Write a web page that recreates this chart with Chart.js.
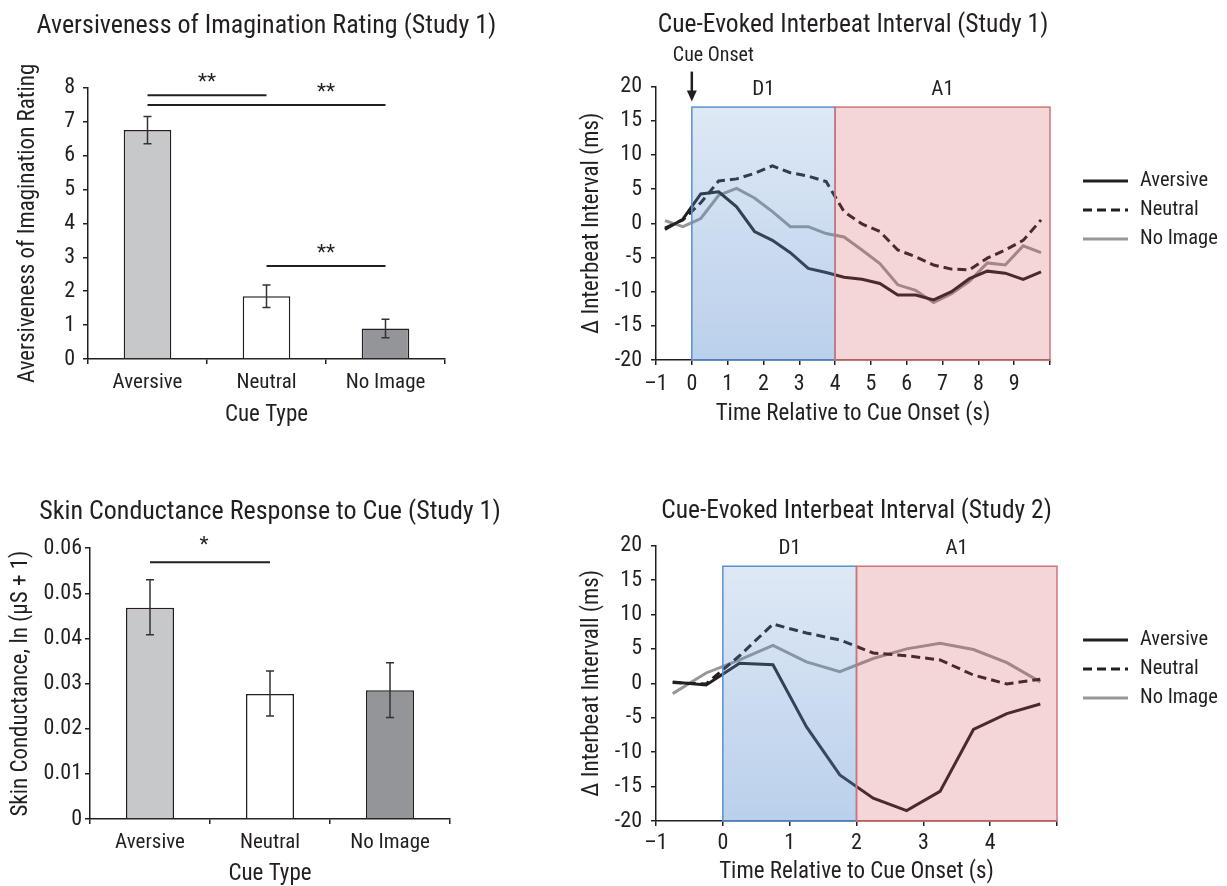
<!DOCTYPE html>
<html><head><meta charset="utf-8">
<script src="https://cdn.jsdelivr.net/npm/chart.js@4.4.1/dist/chart.umd.min.js"></script>
<style>
html,body{margin:0;padding:0;background:#fff;}
body{width:1227px;height:886px;position:relative;overflow:hidden;}
canvas{position:absolute;}
</style></head><body>
<canvas id="c1" width="540" height="445" style="left:0;top:0"></canvas>
<canvas id="c2" width="667" height="445" style="left:560px;top:0"></canvas>
<canvas id="c3" width="540" height="441" style="left:0;top:445px"></canvas>
<canvas id="c4" width="667" height="441" style="left:560px;top:445px"></canvas>
<script>
// ---------- data ----------
const cueTypes = ['Aversive', 'Neutral', 'No Image'];

const ratingMeans = [6.75, 1.85, 0.9];
const ratingErrLow = [6.35, 1.52, 0.63];
const ratingErrHigh = [7.15, 2.18, 1.17];
const ratingSigPairs = [[0, 1], [0, 2], [1, 2]];
const ratingSigLevels = [7.78, 7.49, 2.74];
const ratingSigLabels = ['**', '**', '**'];
const ratingSigLabelAt = [0.5, 1.5, 1.5];

const scrMeans = [0.0468, 0.0277, 0.0285];
const scrErrLow = [0.0408, 0.0228, 0.0225];
const scrErrHigh = [0.053, 0.0328, 0.0346];
const scrSigPairs = [[0, 1]];
const scrSigLevels = [0.0569];
const scrSigLabels = ['*'];
const scrSigLabelAt = [0.45];

const seriesNames = ['Aversive', 'Neutral', 'No Image'];
const periodLabels = ['D1', 'A1'];

const study1Time = [-0.75, -0.25, 0.25, 0.75, 1.25, 1.75, 2.25, 2.75, 3.25, 3.75, 4.25, 4.75, 5.25, 5.75, 6.25, 6.75, 7.25, 7.75, 8.25, 8.75, 9.25, 9.75];
const study1Aversive = [-0.9, 0.6, 4.3, 4.6, 2.4, -1.2, -2.5, -4.3, -6.6, -7.2, -7.9, -8.2, -8.8, -10.5, -10.5, -11.2, -10.0, -8.1, -7.0, -7.3, -8.2, -7.1];
const study1Neutral = [-0.7, 0.5, 3.0, 6.2, 6.5, 7.3, 8.4, 7.4, 6.9, 6.1, 1.7, -0.1, -1.2, -3.9, -4.9, -6.1, -6.7, -6.8, -5.1, -3.9, -2.5, 0.5];
const study1NoImage = [0.4, -0.5, 0.7, 4.1, 5.1, 3.7, 1.7, -0.5, -0.5, -1.5, -2.0, -3.9, -5.9, -9.0, -9.8, -11.6, -10.3, -8.5, -5.8, -6.1, -3.3, -4.3];
const study1PeriodBounds = [0, 4, 10];
const study1TickLabels = ['\u20131', '0', '1', '2', '3', '4', '5', '6', '7', '8', '9', ''];

const study2Time = [-0.75, -0.25, 0.25, 0.75, 1.25, 1.75, 2.25, 2.75, 3.25, 3.75, 4.25, 4.75];
const study2Aversive = [0.2, -0.25, 2.9, 2.7, -6.3, -13.3, -16.7, -18.5, -15.7, -6.7, -4.4, -3.0];
const study2Neutral = [0.1, -0.1, 4.0, 8.6, 7.3, 6.3, 4.4, 4.0, 3.4, 1.2, -0.1, 0.6];
const study2NoImage = [-1.5, 1.5, 3.4, 5.5, 3.1, 1.7, 3.6, 5.0, 5.8, 4.9, 3.0, 0.2];
const study2PeriodBounds = [0, 2, 5];
const study2TickLabels = ['\u20131', '0', '1', '2', '3', '4', ''];

// ---------- style ----------
const F = "'Liberation Sans Narrow','Arial Narrow','Roboto Condensed','DejaVu Sans Condensed',sans-serif";
const TXT = '#231f20';
Chart.defaults.font.family = F;
Chart.defaults.color = TXT;

const zip = (xs, ys) => xs.map((x, i) => ({x, y: ys[i]}));

// ---------- plugins ----------
// let the (non-full-size) title be centred over the plot area without being squeezed to its width
const widenTitlePlugin = {
  id: 'widenTitle',
  afterLayout(chart) {
    const t = chart.titleBlock;
    if (!t) return;
    const c = (chart.chartArea.left + chart.chartArea.right) / 2;
    t.left = c - 400; t.right = c + 400; t.width = 800;
  }
};

const errorBarPlugin = {
  id: 'errorBars',
  afterDatasetsDraw(chart, args, o) {
    const meta = chart.getDatasetMeta(0), y = chart.scales.y, ctx = chart.ctx;
    ctx.save();
    ctx.strokeStyle = o.color; ctx.lineWidth = o.width;
    meta.data.forEach((bar, i) => {
      const lo = y.getPixelForValue(o.low[i]), hi = y.getPixelForValue(o.high[i]);
      ctx.beginPath();
      ctx.moveTo(bar.x, lo); ctx.lineTo(bar.x, hi);
      ctx.moveTo(bar.x - o.cap, lo); ctx.lineTo(bar.x + o.cap, lo);
      ctx.moveTo(bar.x - o.cap, hi); ctx.lineTo(bar.x + o.cap, hi);
      ctx.stroke();
    });
    ctx.restore();
  }
};

const sigPlugin = {
  id: 'sig',
  afterDatasetsDraw(chart, args, o) {
    const x = chart.scales.x, y = chart.scales.y, ctx = chart.ctx;
    ctx.save();
    ctx.strokeStyle = TXT; ctx.lineWidth = 2; ctx.fillStyle = TXT;
    ctx.font = o.fontSize + 'px ' + F; ctx.textAlign = 'center'; ctx.textBaseline = 'alphabetic';
    o.pairs.forEach((p, i) => {
      const x0 = x.getPixelForValue(p[0]), x1 = x.getPixelForValue(p[1]);
      const yy = y.getPixelForValue(o.levels[i]);
      ctx.beginPath(); ctx.moveTo(x0, yy); ctx.lineTo(x1, yy); ctx.stroke();
      ctx.fillText(o.labels[i], x.getPixelForValue(o.labelAt[i]), yy - o.textOffset);
    });
    ctx.restore();
  }
};

const periodPlugin = {
  id: 'periods',
  afterDatasetsDraw(chart, args, o) {
    const x = chart.scales.x, y = chart.scales.y, ctx = chart.ctx;
    ctx.save();
    const yTop = y.getPixelForValue(o.top), yBot = y.getPixelForValue(y.min);
    for (let i = 0; i < o.bounds.length - 1; i++) {
      const x0 = x.getPixelForValue(o.bounds[i]), x1 = x.getPixelForValue(o.bounds[i + 1]);
      const st = o.styles[i];
      let fill;
      if (st.gradient) {
        fill = ctx.createLinearGradient(0, yTop, 0, yBot);
        fill.addColorStop(0, st.gradient[0]); fill.addColorStop(1, st.gradient[1]);
      } else fill = st.fill;
      ctx.fillStyle = fill;
      ctx.fillRect(x0, yTop, x1 - x0, yBot - yTop);
      ctx.strokeStyle = st.stroke; ctx.lineWidth = 1.5;
      ctx.strokeRect(x0, yTop, x1 - x0, yBot - yTop);
      ctx.fillStyle = TXT; ctx.font = o.fontSize + 'px ' + F;
      ctx.textAlign = 'center'; ctx.textBaseline = 'middle';
      ctx.fillText(o.labels[i], (x0 + x1) / 2, y.getPixelForValue(o.labelY));
    }
    ctx.restore();
  }
};

const cuePlugin = {
  id: 'cueOnset',
  afterDraw(chart, args, o) {
    if (!o.show) return;
    const x = chart.scales.x, ctx = chart.ctx, top = chart.chartArea.top;
    const px = x.getPixelForValue(o.at);
    ctx.save();
    ctx.strokeStyle = TXT; ctx.fillStyle = TXT; ctx.lineWidth = 2.5;
    ctx.beginPath(); ctx.moveTo(px, top - 15); ctx.lineTo(px, top + 6); ctx.stroke();
    ctx.beginPath(); ctx.moveTo(px - 5, top + 4); ctx.lineTo(px + 5, top + 4); ctx.lineTo(px, top + 15); ctx.closePath(); ctx.fill();
    ctx.font = o.fontSize + 'px ' + F; ctx.textAlign = 'left'; ctx.textBaseline = 'middle';
    ctx.fillText(o.text, px - 19, top - 31);
    ctx.restore();
  }
};

const lineLegendPlugin = {
  id: 'lineLegend',
  afterDraw(chart, args, o) {
    const ctx = chart.ctx;
    ctx.save();
    chart.data.datasets.forEach((ds, i) => {
      const y = o.y + i * o.spacing;
      ctx.strokeStyle = ds.borderColor; ctx.lineWidth = ds.borderWidth;
      ctx.setLineDash(ds.borderDash || []);
      ctx.beginPath(); ctx.moveTo(o.x, y); ctx.lineTo(o.x + o.len, y); ctx.stroke();
      ctx.setLineDash([]);
      ctx.fillStyle = TXT; ctx.font = o.fontSize + 'px ' + F;
      ctx.textAlign = 'left'; ctx.textBaseline = 'middle';
      ctx.fillText(ds.label, o.x + o.len + o.gap, y);
    });
    ctx.restore();
  }
};

// ---------- builders ----------
const gridOpts = {drawOnChartArea: false, drawTicks: true, tickLength: 5, color: TXT, lineWidth: 1.5};
const borderOpts = {display: true, color: TXT, width: 1.5};

function barChart(id, cfg) {
  return new Chart(document.getElementById(id), {
    type: 'bar',
    data: {
      labels: cueTypes,
      datasets: [{
        data: cfg.values,
        backgroundColor: ['#c7c8ca', '#ffffff', '#939598'],
        borderColor: TXT, borderWidth: 1.5,
        barPercentage: 0.4, categoryPercentage: 1
      }]
    },
    options: {
      responsive: false, animation: false, devicePixelRatio: 1,
      layout: {padding: cfg.padding},
      plugins: {
        legend: {display: false}, tooltip: {enabled: false},
        title: {display: true, text: cfg.title, fullSize: false, color: TXT,
          font: {family: F, size: 26, weight: 'normal', lineHeight: 1.2},
          padding: cfg.titlePad},
        errorBars: {low: cfg.errLow, high: cfg.errHigh, color: '#333', width: 1.5, cap: 4},
        sig: {pairs: cfg.sigPairs, levels: cfg.sigLevels, labels: cfg.sigLabels, labelAt: cfg.sigLabelAt, textOffset: cfg.sigOffset, fontSize: 21}
      },
      scales: {
        x: {
          grid: Object.assign({offset: true}, gridOpts),
          border: borderOpts,
          ticks: {font: {family: F, size: 21}, color: TXT, padding: cfg.xTickPad, autoSkip: false, maxRotation: 0},
          title: {display: true, text: 'Cue Type', color: TXT, font: {family: F, size: 23, lineHeight: 1.2}, padding: {top: 0, bottom: cfg.xTitlePad}},
          afterFit: s => { s.height = cfg.xHeight; }
        },
        y: {
          min: 0, max: cfg.yMax,
          grid: gridOpts, border: borderOpts,
          ticks: {stepSize: cfg.yStep, font: {family: F, size: 22}, color: TXT, padding: cfg.yTickPad},
          title: {display: true, text: cfg.yTitle, color: TXT, font: {family: F, size: 23, lineHeight: 1.2}, padding: {top: cfg.yTitlePad}},
          afterFit: s => { s.width = cfg.yWidth; }
        }
      }
    },
    plugins: [widenTitlePlugin, errorBarPlugin, sigPlugin]
  });
}

function lineChart(id, cfg) {
  const colors = ['#231f20', '#231f20', '#979797'];
  const dashes = [[], [9, 5], []];
  const vals = [cfg.aversive, cfg.neutral, cfg.noImage];
  return new Chart(document.getElementById(id), {
    type: 'line',
    data: {
      datasets: seriesNames.map((n, i) => ({
        label: n, data: zip(cfg.time, vals[i]),
        borderColor: colors[i], borderWidth: 3, borderDash: dashes[i],
        pointRadius: 0, tension: 0, fill: false
      }))
    },
    options: {
      responsive: false, animation: false, devicePixelRatio: 1,
      layout: {padding: cfg.padding},
      plugins: {
        legend: {display: false}, tooltip: {enabled: false},
        title: {display: true, text: cfg.title, fullSize: false, color: TXT,
          font: {family: F, size: 25.5, weight: 'normal', lineHeight: 1.2},
          padding: cfg.titlePad},
        periods: {bounds: cfg.bounds, top: 17, labelY: 19.5, labels: periodLabels, fontSize: 21,
          styles: [
            {gradient: ['rgba(91,143,207,0.2)', 'rgba(91,143,207,0.42)'], stroke: '#5b8fd0'},
            {fill: 'rgba(208,80,90,0.235)', stroke: '#d27474'}
          ]},
        cueOnset: {show: cfg.cue, at: 0, text: 'Cue Onset', fontSize: 20},
        lineLegend: {x: 523, y: cfg.legendY, spacing: 29, len: 45, gap: 12, fontSize: 20.5}
      },
      scales: {
        x: {
          type: 'linear', min: -1, max: cfg.xMax,
          grid: gridOpts, border: borderOpts,
          ticks: {stepSize: 1, autoSkip: false, maxRotation: 0, font: {family: F, size: 22}, color: TXT,
            padding: cfg.xTickPad, callback: (v, i) => cfg.tickLabels[i]},
          title: {display: true, text: 'Time Relative to Cue Onset (s)', color: TXT, font: {family: F, size: 23, lineHeight: 1.2}, padding: {top: 0, bottom: cfg.xTitlePad}},
          afterFit: s => { s.height = cfg.xHeight; }
        },
        y: {
          min: -20, max: 20,
          grid: gridOpts, border: borderOpts,
          ticks: {stepSize: 5, font: {family: F, size: 22}, color: TXT, padding: 9},
          title: {display: true, text: cfg.yTitle, color: TXT, font: {family: F, size: 23, lineHeight: 1.2}, padding: {top: 18}},
          afterFit: s => { s.width = 96; }
        }
      }
    },
    plugins: [widenTitlePlugin, periodPlugin, cuePlugin, lineLegendPlugin]
  });
}

// ---------- charts ----------
barChart('c1', {
  values: ratingMeans, errLow: ratingErrLow, errHigh: ratingErrHigh,
  sigPairs: ratingSigPairs, sigLevels: ratingSigLevels, sigLabels: ratingSigLabels, sigLabelAt: ratingSigLabelAt, sigOffset: 7,
  title: 'Aversiveness of Imagination Rating (Study 1)', titlePad: {top: 11, bottom: 45.5},
  padding: {left: 0, right: 95, top: 0, bottom: 19},
  yMax: 8, yStep: 1, yTitle: 'Aversiveness of Imagination Rating', yTitlePad: 14, yWidth: 88, yTickPad: 8,
  xHeight: 67, xTickPad: 6, xTitlePad: -3
});

lineChart('c2', {
  time: study1Time, aversive: study1Aversive, neutral: study1Neutral, noImage: study1NoImage,
  bounds: study1PeriodBounds, tickLabels: study1TickLabels, xMax: 10, cue: true,
  title: 'Cue-Evoked Interbeat Interval (Study 1)', titlePad: {top: 10, bottom: 46},
  padding: {left: 0, right: 177, top: 0, bottom: 20},
  yTitle: '\u0394 Interbeat Interval (ms)', xHeight: 65, xTickPad: 6, xTitlePad: -3, legendY: 181
});

barChart('c3', {
  values: scrMeans, errLow: scrErrLow, errHigh: scrErrHigh,
  sigPairs: scrSigPairs, sigLevels: scrSigLevels, sigLabels: scrSigLabels, sigLabelAt: scrSigLabelAt, sigOffset: 11,
  title: 'Skin Conductance Response to Cue (Study 1)', titlePad: {top: 51.5, bottom: 20.5},
  padding: {left: 0, right: 90, top: 0, bottom: 1},
  yMax: 0.06, yStep: 0.01, yTitle: 'Skin Conductance, ln (\u00b5S + 1)', yTitlePad: 7, yWidth: 90, yTickPad: 3,
  xHeight: 66, xTickPad: 6, xTitlePad: -3
});

lineChart('c4', {
  time: study2Time, aversive: study2Aversive, neutral: study2Neutral, noImage: study2NoImage,
  bounds: study2PeriodBounds, tickLabels: study2TickLabels, xMax: 5, cue: false,
  title: 'Cue-Evoked Interbeat Interval (Study 2)', titlePad: {top: 51, bottom: 19},
  padding: {left: 0, right: 170, top: 0, bottom: 0},
  yTitle: '\u0394 Interbeat Intervall (ms)', xHeight: 65, xTickPad: 4, xTitlePad: 0, legendY: 195
});
</script>
</body></html>
